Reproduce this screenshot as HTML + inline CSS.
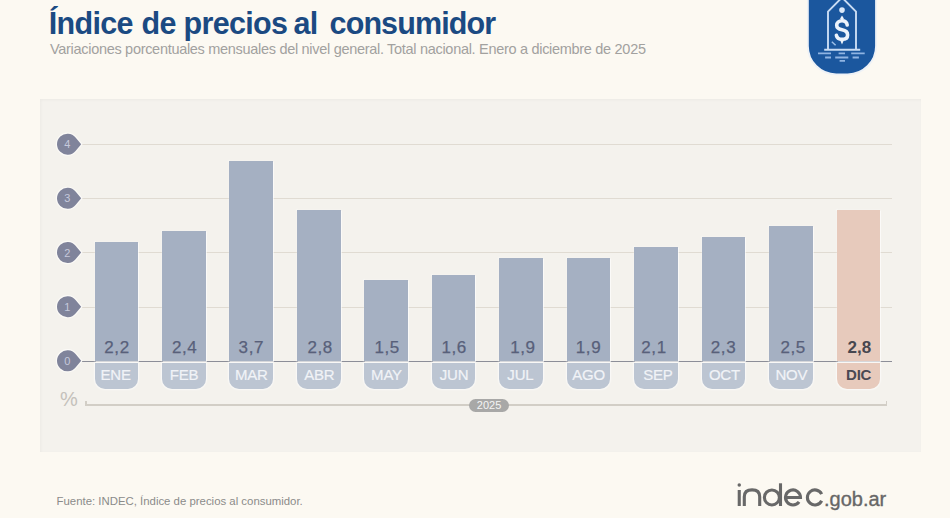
<!DOCTYPE html>
<html><head><meta charset="utf-8">
<style>
*{margin:0;padding:0;box-sizing:border-box}
html,body{width:950px;height:518px;overflow:hidden;background:#fcf9f2;font-family:"Liberation Sans",sans-serif;position:relative}
.abs{position:absolute}
.title{top:4.5px;font-size:30.5px;letter-spacing:-0.7px;font-weight:bold;color:#1b4a82;white-space:nowrap;line-height:36px}
#sub{left:50px;top:41px;font-size:14.5px;letter-spacing:-0.3px;color:#a2a19f;white-space:nowrap;line-height:16px}
#panel{left:40px;top:98.5px;width:881px;height:353.0px;background:#f4f2ed;box-shadow:inset 1px 1px 3px rgba(0,0,0,0.035)}
.grid{height:1px;background:#e0dbd2;left:70px;width:822px}
.zero{height:1px;background:#8c8e98;left:70px;width:822px}
.bar{background:#a5b0c2;width:43.7px;box-shadow:0 0 1.5px 1.2px rgba(255,255,255,0.6)}
.bar.d{background:#e7cabc}
.tab{background:#bcc5d2;width:43.7px;height:25.6px;top:363.2px;border-radius:0 0 10px 10px;color:#f1f3f7;-webkit-text-stroke:0.2px #f1f3f7;font-size:15px;letter-spacing:-0.2px;text-align:center;line-height:24.5px;box-shadow:0 0 1.5px 1px rgba(255,255,255,0.6)}
.tab.d{background:#e7cabc;color:#4a4953;font-weight:bold;-webkit-text-stroke:0}
.val{width:43.7px;text-align:center;font-size:17px;color:#58607a;top:338.3px;line-height:20px;-webkit-text-stroke:0.25px #58607a;letter-spacing:0.6px}
.val.d{color:#48474f;font-weight:bold;-webkit-text-stroke:0;letter-spacing:0}
</style></head><body>
<div class="abs title" style="left:48.8px;letter-spacing:-0.7px">Índice</div>
<div class="abs title" style="left:141.6px;letter-spacing:-0.7px">de</div>
<div class="abs title" style="left:183.6px;letter-spacing:-0.7px">precios</div>
<div class="abs title" style="left:293.6px;letter-spacing:-0.7px">al</div>
<div class="abs title" style="left:329.6px;letter-spacing:-0.9px">consumidor</div>
<div id="sub" class="abs">Variaciones porcentuales mensuales del nivel general. Total nacional. Enero a diciembre de 2025</div>
<div id="panel" class="abs"></div>
<div class="abs grid" style="top:144.10px"></div>
<div class="abs grid" style="top:198.25px"></div>
<div class="abs grid" style="top:252.40px"></div>
<div class="abs grid" style="top:306.55px"></div>
<div class="abs zero" style="top:361.20px"></div>
<svg class="abs" style="left:0;top:0" width="100" height="400" viewBox="0 0 100 400">
<path d="M81.2 144.20 L75.55 137.46 A10.5 10.5 0 1 0 75.55 150.94 Z" fill="#80849b" stroke="#fbfaf7" stroke-width="2.4" stroke-linejoin="round" paint-order="stroke"/>
<text x="67.2" y="148.20" font-family="Liberation Sans" font-size="11" fill="#c6c9dc" text-anchor="middle">4</text>
<path d="M81.2 198.35 L75.55 191.61 A10.5 10.5 0 1 0 75.55 205.09 Z" fill="#80849b" stroke="#fbfaf7" stroke-width="2.4" stroke-linejoin="round" paint-order="stroke"/>
<text x="67.2" y="202.35" font-family="Liberation Sans" font-size="11" fill="#c6c9dc" text-anchor="middle">3</text>
<path d="M81.2 252.50 L75.55 245.76 A10.5 10.5 0 1 0 75.55 259.24 Z" fill="#80849b" stroke="#fbfaf7" stroke-width="2.4" stroke-linejoin="round" paint-order="stroke"/>
<text x="67.2" y="256.50" font-family="Liberation Sans" font-size="11" fill="#c6c9dc" text-anchor="middle">2</text>
<path d="M81.2 306.65 L75.55 299.91 A10.5 10.5 0 1 0 75.55 313.39 Z" fill="#80849b" stroke="#fbfaf7" stroke-width="2.4" stroke-linejoin="round" paint-order="stroke"/>
<text x="67.2" y="310.65" font-family="Liberation Sans" font-size="11" fill="#c6c9dc" text-anchor="middle">1</text>
<path d="M81.2 360.80 L75.55 354.06 A10.5 10.5 0 1 0 75.55 367.54 Z" fill="#80849b" stroke="#fbfaf7" stroke-width="2.4" stroke-linejoin="round" paint-order="stroke"/>
<text x="67.2" y="364.80" font-family="Liberation Sans" font-size="11" fill="#c6c9dc" text-anchor="middle">0</text>
</svg>
<div class="abs bar" style="left:94.50px;top:242.07px;height:119.13px"></div>
<div class="abs bar" style="left:161.95px;top:231.24px;height:129.96px"></div>
<div class="abs bar" style="left:229.41px;top:160.84px;height:200.36px"></div>
<div class="abs bar" style="left:296.87px;top:209.58px;height:151.62px"></div>
<div class="abs bar" style="left:364.32px;top:279.98px;height:81.22px"></div>
<div class="abs bar" style="left:431.77px;top:274.56px;height:86.64px"></div>
<div class="abs bar" style="left:499.23px;top:258.31px;height:102.88px"></div>
<div class="abs bar" style="left:566.68px;top:258.31px;height:102.88px"></div>
<div class="abs bar" style="left:634.14px;top:247.48px;height:113.72px"></div>
<div class="abs bar" style="left:701.60px;top:236.66px;height:124.54px"></div>
<div class="abs bar" style="left:769.05px;top:225.82px;height:135.38px"></div>
<div class="abs bar d" style="left:836.50px;top:209.58px;height:151.62px"></div>
<div class="abs tab" style="left:94.50px"><span style="position:relative;left:-0.75px">ENE</span></div>
<div class="abs val" style="left:95.15px">2,2</div>
<div class="abs tab" style="left:161.95px"><span style="position:relative;left:0.25px">FEB</span></div>
<div class="abs val" style="left:162.75px">2,4</div>
<div class="abs tab" style="left:229.41px"><span style="position:relative;left:0px">MAR</span></div>
<div class="abs val" style="left:229.46px">3,7</div>
<div class="abs tab" style="left:296.87px"><span style="position:relative;left:0.55px">ABR</span></div>
<div class="abs val" style="left:298.37px">2,8</div>
<div class="abs tab" style="left:364.32px"><span style="position:relative;left:0.35px">MAY</span></div>
<div class="abs val" style="left:365.32px">1,5</div>
<div class="abs tab" style="left:431.77px"><span style="position:relative;left:0.4px">JUN</span></div>
<div class="abs val" style="left:432.27px">1,6</div>
<div class="abs tab" style="left:499.23px"><span style="position:relative;left:-0.7px">JUL</span></div>
<div class="abs val" style="left:501.08px">1,9</div>
<div class="abs tab" style="left:566.68px"><span style="position:relative;left:0px">AGO</span></div>
<div class="abs val" style="left:566.68px">1,9</div>
<div class="abs tab" style="left:634.14px"><span style="position:relative;left:1.9px">SEP</span></div>
<div class="abs val" style="left:632.14px">2,1</div>
<div class="abs tab" style="left:701.60px"><span style="position:relative;left:1.0px">OCT</span></div>
<div class="abs val" style="left:701.64px">2,3</div>
<div class="abs tab" style="left:769.05px"><span style="position:relative;left:0.5px">NOV</span></div>
<div class="abs val" style="left:771.35px">2,5</div>
<div class="abs tab d" style="left:836.50px"><span style="position:relative;left:0.3px">DIC</span></div>
<div class="abs val d" style="left:837.55px">2,8</div>
<div class="abs" style="left:60px;top:387.5px;font-size:20px;color:#c4c1bb;line-height:22px">%</div>
<div class="abs" style="left:85.3px;top:403.6px;width:802px;height:2px;background:#d2cec6"></div>
<div class="abs" style="left:85.3px;top:400.5px;width:1.6px;height:5px;background:#d2cec6"></div>
<div class="abs" style="left:885.8px;top:400.5px;width:1.6px;height:5px;background:#d2cec6"></div>
<div class="abs" style="left:469.2px;top:399.2px;width:39.8px;height:13.2px;border-radius:7px;background:#a8a8a7;color:#f4f4f4;font-size:11px;text-align:center;line-height:13.5px">2025</div>
<div class="abs" style="left:56.5px;top:494.7px;font-size:11.4px;color:#8b8b8a;white-space:nowrap;line-height:13px">Fuente: INDEC, Índice de precios al consumidor.</div>
<svg class="abs" style="left:730px;top:478px" width="100" height="34" viewBox="730 478 100 34">
 <g fill="none" stroke="#686868" stroke-width="3.1">
  <path d="M739.25 490 V506"/>
  <path d="M744.3 506 V496.8 C744.3 491.9 747.3 489.9 752.1 489.9 C756.9 489.9 759.7 491.9 759.7 496.8 V506"/>
  <circle cx="771.9" cy="497.45" r="7.5"/>
  <path d="M780.5 483.3 V506"/>
  <path d="M785.50 497.45 H800.50 A7.5 7.5 0 1 0 799.07 501.86"/>
  <path d="M821.64 500.74 A7.5 7.5 0 1 1 821.64 494.16"/>
 </g>
 <circle cx="739.25" cy="485.1" r="1.75" fill="#686868"/>
</svg>
<div class="abs" style="left:824px;top:484.5px;font-size:20px;color:#676767;-webkit-text-stroke:0.35px #676767;white-space:nowrap;line-height:28px">.gob.ar</div>
<svg class="abs" style="left:800px;top:0" width="84" height="80" viewBox="800 0 84 80">
  <path d="M807.9 -3 H876 V46 A28.3 28.3 0 0 1 847.7 74.3 H836.2 A28.3 28.3 0 0 1 807.9 46 Z" fill="#1b579e" stroke="#eef2f7" stroke-width="1.8"/>
  <g fill="none" stroke="#c9dcf3" stroke-width="1.9">
    <path d="M828 49.8 V11.6 L842 -2.5 L856 11.6 V49.8"/>
    <line x1="824.2" y1="49.8" x2="860.2" y2="49.8"/>
  </g>
  <circle cx="842" cy="10.1" r="2.8" fill="#dbe8f8"/>
  <g stroke="#8fb4e2" stroke-width="1.8">
    <path d="M818 53.4 H831 M838.6 53.4 H845 M851.2 53.4 H864.7 M825.1 57.5 H831 M835.2 57.5 H848.3 M852.6 57.5 H858.9 M839.6 60.9 H845"/>
  </g>
  <path d="M831.8 41.7 L835.6 45.2" stroke="#9fc0e8" stroke-width="1.5"/>
  <g fill="none" stroke="#edf3fb" stroke-width="3.6" stroke-linecap="round">
    <path d="M847.2 25 C846.8 22, 844.6 20.8, 842 20.8 C838.8 20.8, 836.7 22.7, 836.7 25.3 C836.7 28.2, 839.2 29.3, 842 29.8 C845.3 30.4, 847.6 31.6, 847.6 34.9 C847.6 37.9, 845.2 39.3, 842 39.3 C838.8 39.3, 836.9 37.8, 836.4 35.3"/>
  </g>
  <path d="M842 15.6 L843.9 18.6 L842 21.2 L840.1 18.6 Z M839.6 39 L844.4 39 L842 44.4 Z" fill="#edf3fb"/>
</svg>
</body></html>
